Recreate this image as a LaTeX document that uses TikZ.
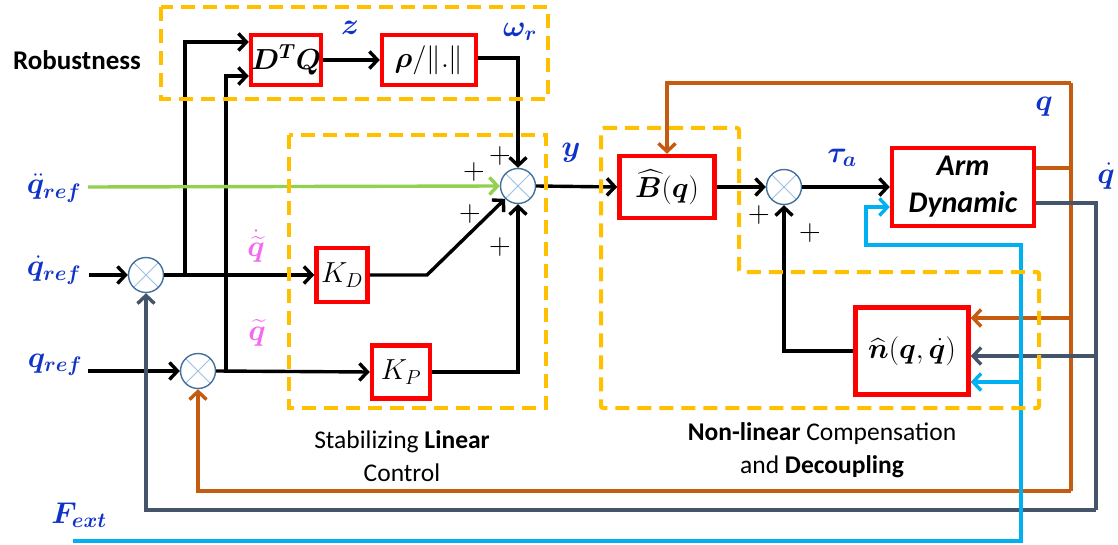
\RequirePackage{fix-cm}
\documentclass[tikz,border=0pt]{standalone}
\usepackage{amsmath}
\usepackage{bm}
\usepackage[no-math]{fontspec}
\setmainfont{Carlito}
\usetikzlibrary{arrows.meta}
\definecolor{orangeD}{RGB}{255,192,0}
\definecolor{blueL}{RGB}{15,50,200}
\definecolor{pinkL}{RGB}{245,105,240}
\definecolor{brownL}{RGB}{197,90,17}
\definecolor{grayL}{RGB}{68,84,106}
\definecolor{cyanL}{RGB}{0,176,240}
\definecolor{greenL}{RGB}{146,208,80}
\definecolor{sumO}{RGB}{65,113,156}
\definecolor{sumX}{RGB}{155,194,230}
\newcommand{\myMathSz}{\fontsize{30}{34}\selectfont}
\newcommand{\myBoxSz}{\fontsize{29}{33}\selectfont}
\newcommand{\myCapSz}{\fontsize{25.5}{33}\selectfont}
\newcommand{\myArmSz}{\fontsize{30}{37}\selectfont}
\newcommand{\myRobSz}{\fontsize{27}{32}\selectfont}
\newcommand{\myPlusSz}{\fontsize{30}{32}\selectfont}
\begin{document}
\begin{tikzpicture}[x=1pt,y=-1pt,
  blk/.style={line width=3.4pt, draw=black},
  brn/.style={line width=3.4pt, draw=brownL},
  gry/.style={line width=3.4pt, draw=grayL},
  cyn/.style={line width=3.4pt, draw=cyanL},
  grn/.style={line width=3.4pt, draw=greenL},
  tip/.style={-{Straight Barb[length=8pt,width=17pt]}},
  blockbox/.style={draw=red, line width=4.5pt, fill=white, inner sep=0pt, font=\myBoxSz},
  sumnode/.style={circle, draw=sumO, line width=1.4pt, fill=white, minimum size=35pt, inner sep=0pt,
    path picture={\draw[sumX, line width=1pt] (path picture bounding box.north west) -- (path picture bounding box.south east) (path picture bounding box.north east) -- (path picture bounding box.south west);}},
  lbl/.style={text=blueL, font=\myMathSz, inner sep=0pt},
  plbl/.style={text=pinkL, font=\myMathSz, inner sep=0pt},
  dashbox/.style={draw=orangeD, line width=4pt, dash pattern=on 14pt off 8pt},
  capt/.style={font=\myCapSz, align=center, inner sep=0pt},
  plus/.style={font=\myPlusSz, inner sep=0pt}
]
\fill[white] (0,0) rectangle (1118,545);
\useasboundingbox (0,0) rectangle (1118,545);

% blocks
\node[blockbox, minimum width=66pt, minimum height=50pt] (dq) at (286,60) {$\bm{D^{T}Q}$};
\node[blockbox, minimum width=94pt, minimum height=50pt] (rho) at (429,60) {$\bm{\rho}/\|.\|$};
\node[blockbox, minimum width=51pt, minimum height=54pt] (KD) at (342,275) {$K_D$};
\node[blockbox, minimum width=58pt, minimum height=53pt] (KP) at (401,372) {$K_P$};
\node[blockbox, minimum width=95pt, minimum height=62pt] (Bh) at (667,187) {$\widehat{\bm B}(\bm q)$};
\node[blockbox, minimum width=142pt, minimum height=78pt, align=center, font=\myArmSz] (Arm) at (963,187) {\textbf{\textit{Arm}}\\\textbf{\textit{Dynamic}}};
\node[blockbox, minimum width=113pt, minimum height=87pt] (nh) at (912,351) {$\widehat{\bm n}(\bm q,\dot{\bm q})$};

% sums
\node[sumnode] (s1) at (146,275) {};
\node[sumnode] (s2) at (198,371) {};
\node[sumnode] (s0) at (518,186) {};
\node[sumnode] (s3) at (784,187) {};

% free ends / junctions
\coordinate (qdin) at (89,275);
\coordinate (qin) at (88,371);
\coordinate (qddin) at (88,187);
\coordinate (j1) at (185,275);
\coordinate (j2) at (226,371);
\coordinate (kdbend) at (427,275);
\coordinate (bt) at (1071,83);
\coordinate (bm) at (1071,168);
\coordinate (bn) at (1071,318);
\coordinate (bb) at (1071,491);
\coordinate (gn) at (1096,356);
\coordinate (gb) at (1096,510);
\coordinate (c0) at (73,541);
\coordinate (c1) at (1021,541);
\coordinate (cn) at (1021,382);
\coordinate (c2) at (1021,245);
\coordinate (c3) at (866,245);
\coordinate (c4) at (866,207);

% black signal paths
\draw[blk, tip] (qdin) -- (s1.west);
\draw[blk, tip] (qin) -- (s2.west);
\draw[blk, tip] (s1.east) -- (KD.west);
\draw[blk, tip] (s2.east) -- (KP.west);
\draw[blk, tip] (j1) |- ([yshift=18pt]dq.west);
\draw[blk, tip] (j2) |- ([yshift=-16pt]dq.west);
\draw[blk, tip] (dq.east) -- (rho.west);
\draw[blk, tip] ([yshift=2pt]rho.east) -| (s0.north);
\draw[blk, tip] (KD.east) -- (kdbend) -- (s0.225);
\draw[blk, tip] (KP.east) -| (s0.south);
\draw[grn, tip] (qddin) -- (s0.west);
\draw[blk, tip] (s0.east) -- (Bh.west);
\draw[blk, tip] (Bh.east) -- (s3.west);
\draw[blk, tip] (s3.east) -- (Arm.west);
\draw[blk, tip] (nh.west) -| (s3.south);

% brown q feedback
\draw[brn] ([yshift=19pt]Arm.east) -- (bm);
\draw[brn] (bt) -- (bb);
\draw[brn, tip] (bt) -| (Bh.north);
\draw[brn, tip] (bn) -- ([yshift=33pt]nh.east);
\draw[brn, tip] (bb) -| (s2.south);

% gray qdot feedback
\draw[gry] ([yshift=-16pt]Arm.east) -| (gb);
\draw[gry, tip] (gn) -- ([yshift=-5pt]nh.east);
\draw[gry, tip] (gb) -| (s1.south);

% cyan F_ext
\draw[cyn, tip] (c0) -- (c1) -- (c2) -- (c3) -- (c4) -- ([yshift=-20pt]Arm.west);
\draw[cyn, tip] (cn) -- ([yshift=-31pt]nh.east);

% dashed groups
\draw[dashbox] (161,7) rectangle (548,99);
\draw[dashbox] (289,135) rectangle (546,408);
\draw[dashbox, rounded corners=2pt] (601,128) -- (739,128) -- (739,272) -- (1039,272) -- (1039,408) -- (601,408) -- cycle;

% signal labels
\node[lbl] (lqdd) at (54,188) {$\ddot{\bm q}_{\bm{ref}}$};
\node[lbl] (lqd) at (54,270) {$\dot{\bm q}_{\bm{ref}}$};
\node[lbl] (lq) at (55,365) {$\bm q_{\bm{ref}}$};
\node[lbl] (lf) at (79,515) {$\bm F_{\bm{ext}}$};
\node[lbl] (lz) at (350,28) {$\bm z$};
\node[lbl] (lw) at (520,32) {$\bm\omega_{\bm r}$};
\node[lbl] (ly) at (571,153) {$\bm y$};
\node[lbl] (ltau) at (842,158) {$\bm\tau_{\bm a}$};
\node[lbl] (lqo) at (1044,107) {$\bm q$};
\node[lbl] (lqdo) at (1106,176) {$\dot{\bm q}$};
\node[plbl] (lqtd) at (256,246) {$\dot{\widetilde{\bm q}}$};
\node[plbl] (lqt) at (257,333) {$\widetilde{\bm q}$};

% plus signs
\node[plus] (p1) at (474,172) {$+$};
\node[plus] (p2) at (500,156) {$+$};
\node[plus] (p3) at (470,214) {$+$};
\node[plus] (p4) at (500,247) {$+$};
\node[plus] (p5) at (759,215) {$+$};
\node[plus] (p6) at (810,233) {$+$};

% captions
\node[capt, font=\myRobSz] (rob) at (77,60) {\textbf{Robustness}};
\node[capt] (stab) at (402,456) {Stabilizing \textbf{Linear}\\Control};
\node[capt] (nonl) at (822,450) {\textbf{Non-linear} Compensation\\and \textbf{Decoupling}};
\end{tikzpicture}
\end{document}
